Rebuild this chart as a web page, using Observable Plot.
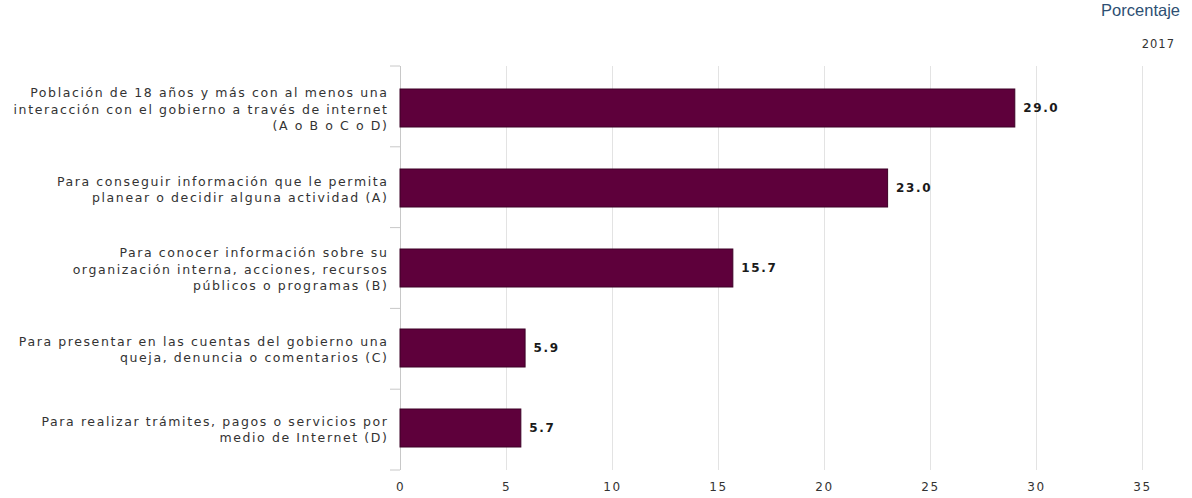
<!DOCTYPE html>
<html>
<head>
<meta charset="utf-8">
<script src="https://cdn.jsdelivr.net/npm/d3@7"></script>
<script src="https://cdn.jsdelivr.net/npm/@observablehq/plot@0.6"></script>
<style>
  html, body { margin: 0; padding: 0; background: #fff; }
  #wrap { position: relative; width: 1192px; height: 498px; overflow: hidden; }
  #head { position: relative; height: 50px; }
  #unit { position: absolute; right: 12px; top: 1px; font-family: "Liberation Sans", Arial, sans-serif; font-size: 16.5px; color: #2e4f73; }
  #year { position: absolute; right: 17px; top: 37px; font-family: "DejaVu Sans", sans-serif; font-size: 11.5px; color: #333; letter-spacing: 1px; }
  svg text { letter-spacing: 1.6px; }
</style>
</head>
<body>
<div id="wrap">
  <div id="head"><div id="unit">Porcentaje</div><div id="year">2017</div></div>
  <div id="chart"></div>
</div>
<script>
const categories = [
  "Población de 18 años y más con al menos una\ninteracción con el gobierno a través de internet\n(A o B o C o D)",
  "Para conseguir información que le permita\nplanear o decidir alguna actividad (A)",
  "Para conocer información sobre su\norganización interna, acciones, recursos\npúblicos o programas (B)",
  "Para presentar en las cuentas del gobierno una\nqueja, denuncia o comentarios (C)",
  "Para realizar trámites, pagos o servicios por\nmedio de Internet (D)"
];
const values = [29.0, 23.0, 15.7, 5.9, 5.7];
const xTicks = [0, 5, 10, 15, 20, 25, 30, 35];

const data = categories.map((c, i) => ({category: c, value: values[i]}));

const boundaryTicks = (index, scales, values, dim) => {
  const g = d3.create("svg:g");
  const n = categories.length;
  const step = (dim.height - dim.marginTop - dim.marginBottom) / n;
  for (let k = 0; k <= n; k++) {
    const y = dim.marginTop + k * step;
    g.append("line").attr("x1", dim.marginLeft - 10).attr("x2", dim.marginLeft)
      .attr("y1", y).attr("y2", y).attr("stroke", "#c8c8c8");
  }
  return g.node();
};

const chart = Plot.plot({
  width: 1192,
  height: 448,
  marginTop: 16,
  marginBottom: 28,
  marginLeft: 400,
  marginRight: 50,
  style: {fontFamily: "DejaVu Sans, sans-serif", fontSize: "12.5px", color: "#333"},
  x: {domain: [0, 35], ticks: xTicks},
  y: {domain: categories, paddingInner: 0.53, paddingOuter: 0.265},
  marks: [
    Plot.gridX(xTicks.filter(t => t > 0), {stroke: "#e3e3e3", strokeOpacity: 1}),
    Plot.ruleX([0], {stroke: "#c8c8c8"}),
    boundaryTicks,
    Plot.barX(data, {x: "value", y: "category", fill: "#5e003b", stroke: "#3d0026", strokeWidth: 1}),
    Plot.text(data, {x: "value", y: "category", text: d => d.value.toFixed(1), textAnchor: "start", dx: 8, fill: "#1a1a1a", fontWeight: "bold", fontSize: 12}),
    Plot.axisX({ticks: xTicks, tickSize: 0, tickPadding: 12, fontSize: 12, fill: "#333", label: null}),
    Plot.axisY({tickSize: 0, tickPadding: 12, lineHeight: 1.32, fontSize: 12.5, fill: "#333", label: null})
  ]
});
document.getElementById("chart").appendChild(chart);
</script>
</body>
</html>
